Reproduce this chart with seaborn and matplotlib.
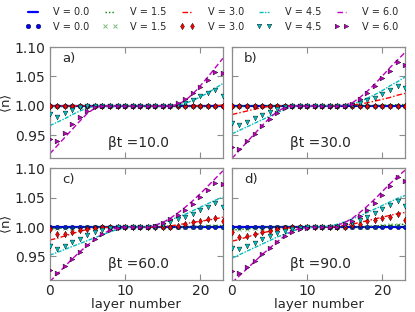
import matplotlib
matplotlib.use("Agg")
import matplotlib.pyplot as plt
import seaborn as sns
import pandas as pd
from matplotlib.lines import Line2D

# ---------------- data ----------------
layers = [0, 1, 2, 3, 4, 5, 6, 7, 8, 9, 10, 11, 12, 13, 14, 15, 16, 17, 18, 19, 20, 21, 22, 23]
v_labels = ["V = 0.0", "V = 1.5", "V = 3.0", "V = 4.5", "V = 6.0"]
panel_tags = ["a)", "b)", "c)", "d)"]
panel_times = ["βt =10.0", "βt =30.0", "βt =60.0", "βt =90.0"]
x_ticks = [0, 10, 20]
y_ticks = [0.95, 1.00, 1.05, 1.10]

# panel a (beta t = 10): lines
line_a_v00 = [1.000, 1.000, 1.000, 1.000, 1.000, 1.000, 1.000, 1.000, 1.000, 1.000, 1.000, 1.000, 1.000, 1.000, 1.000, 1.000, 1.000, 1.000, 1.000, 1.000, 1.000, 1.000, 1.000, 1.000]
line_a_v15 = [1.000, 1.000, 1.000, 1.000, 1.000, 1.000, 1.000, 1.000, 1.000, 1.000, 1.000, 1.000, 1.000, 1.000, 1.000, 1.000, 1.000, 1.000, 1.000, 1.000, 1.000, 1.000, 1.000, 1.000]
line_a_v30 = [0.999, 1.000, 1.000, 1.000, 1.000, 1.000, 1.000, 1.000, 1.000, 1.000, 1.000, 1.000, 1.000, 1.000, 1.000, 1.000, 1.000, 1.000, 1.000, 1.000, 1.000, 1.000, 1.000, 1.001]
line_a_v45 = [0.966, 0.972, 0.978, 0.985, 0.991, 0.996, 0.999, 1.000, 1.000, 1.000, 1.000, 1.000, 1.000, 1.000, 1.000, 1.000, 1.000, 1.001, 1.004, 1.009, 1.015, 1.022, 1.030, 1.038]
line_a_v60 = [0.918, 0.932, 0.946, 0.960, 0.974, 0.987, 0.996, 1.000, 1.000, 1.000, 1.000, 1.000, 1.000, 1.000, 1.000, 1.000, 1.000, 1.002, 1.009, 1.020, 1.034, 1.049, 1.065, 1.081]
# panel a: simulation points
dots_a_v00 = [1.000, 1.000, 1.000, 1.000, 1.000, 1.000, 1.000, 1.000, 1.000, 1.000, 1.000, 1.000, 1.000, 1.000, 1.000, 1.000, 1.000, 1.000, 1.000, 1.000, 1.000, 1.000, 1.000, 1.000]
dots_a_v15 = [1.000, 1.000, 1.000, 1.000, 1.000, 1.000, 1.000, 1.000, 1.000, 1.000, 1.000, 1.000, 1.000, 1.000, 1.000, 1.000, 1.000, 1.000, 1.000, 1.000, 1.000, 1.000, 1.000, 1.000]
dots_a_v30 = [1.000, 1.000, 1.000, 1.000, 1.000, 1.000, 1.000, 1.000, 1.000, 1.000, 1.000, 1.000, 1.000, 1.000, 1.000, 1.000, 1.000, 1.000, 1.000, 1.000, 1.000, 1.000, 1.000, 1.000]
dots_a_v45 = [0.986, 0.980, 0.987, 0.993, 0.997, 0.999, 1.000, 1.000, 1.000, 1.000, 1.000, 1.000, 1.000, 1.000, 1.000, 1.000, 1.000, 1.001, 1.004, 1.009, 1.016, 1.022, 1.026, 1.017]
dots_a_v60 = [0.944, 0.940, 0.954, 0.968, 0.981, 0.991, 0.998, 1.000, 1.000, 1.000, 1.000, 1.000, 1.000, 1.000, 1.000, 1.000, 1.000, 1.004, 1.012, 1.021, 1.032, 1.044, 1.058, 1.056]

# panel b (beta t = 30)
line_b_v00 = [1.000, 1.000, 1.000, 1.000, 1.000, 1.000, 1.000, 1.000, 1.000, 1.000, 1.000, 1.000, 1.000, 1.000, 1.000, 1.000, 1.000, 1.000, 1.000, 1.000, 1.000, 1.000, 1.000, 1.000]
line_b_v15 = [0.998, 0.999, 1.000, 1.000, 1.000, 1.000, 1.000, 1.000, 1.000, 1.000, 1.000, 1.000, 1.000, 1.000, 1.000, 1.000, 1.000, 1.000, 1.000, 1.000, 1.001, 1.001, 1.002, 1.002]
line_b_v30 = [0.985, 0.988, 0.991, 0.994, 0.997, 0.999, 1.000, 1.000, 1.000, 1.000, 1.000, 1.000, 1.000, 1.000, 1.000, 1.000, 1.001, 1.003, 1.005, 1.008, 1.011, 1.014, 1.018, 1.021]
line_b_v45 = [0.952, 0.958, 0.964, 0.970, 0.976, 0.982, 0.988, 0.994, 0.998, 1.000, 1.000, 1.000, 1.000, 1.000, 1.000, 1.001, 1.003, 1.007, 1.013, 1.019, 1.026, 1.034, 1.041, 1.049]
line_b_v60 = [0.910, 0.924, 0.938, 0.952, 0.966, 0.979, 0.990, 0.997, 1.000, 1.000, 1.000, 1.000, 1.000, 1.000, 1.000, 1.001, 1.005, 1.014, 1.025, 1.037, 1.051, 1.065, 1.078, 1.091]
dots_b_v00 = [1.000, 1.000, 1.000, 1.000, 1.000, 1.000, 1.000, 1.000, 1.000, 1.000, 1.000, 1.000, 1.000, 1.000, 1.000, 1.000, 1.000, 1.000, 1.000, 1.000, 1.000, 1.000, 1.000, 1.000]
dots_b_v15 = [1.000, 1.000, 1.000, 1.000, 1.000, 1.000, 1.000, 1.000, 1.000, 1.000, 1.000, 1.000, 1.000, 1.000, 1.000, 1.000, 1.000, 1.000, 1.000, 1.000, 1.000, 1.000, 1.000, 1.000]
dots_b_v30 = [1.000, 1.000, 1.000, 1.000, 1.000, 1.000, 1.000, 1.000, 1.000, 1.000, 1.000, 1.000, 1.000, 1.000, 1.000, 1.000, 1.000, 1.000, 1.000, 1.000, 1.000, 1.000, 1.000, 1.000]
dots_b_v45 = [0.970, 0.967, 0.973, 0.979, 0.985, 0.990, 0.995, 0.998, 1.000, 1.000, 1.000, 1.000, 1.000, 1.000, 1.000, 1.000, 1.001, 1.004, 1.009, 1.014, 1.020, 1.027, 1.034, 1.030]
dots_b_v60 = [0.930, 0.926, 0.939, 0.952, 0.965, 0.977, 0.988, 0.996, 1.000, 1.000, 1.000, 1.000, 1.000, 1.000, 1.000, 1.000, 1.003, 1.011, 1.022, 1.034, 1.047, 1.060, 1.074, 1.070]

# panel c (beta t = 60)
line_c_v00 = [1.000, 1.000, 1.000, 1.000, 1.000, 1.000, 1.000, 1.000, 1.000, 1.000, 1.000, 1.000, 1.000, 1.000, 1.000, 1.000, 1.000, 1.000, 1.000, 1.000, 1.000, 1.000, 1.000, 1.000]
line_c_v15 = [0.997, 0.998, 0.998, 0.999, 0.999, 1.000, 1.000, 1.000, 1.000, 1.000, 1.000, 1.000, 1.000, 1.000, 1.000, 1.000, 1.000, 1.000, 1.000, 1.001, 1.001, 1.002, 1.002, 1.003]
line_c_v30 = [0.978, 0.981, 0.985, 0.989, 0.993, 0.996, 0.998, 0.999, 1.000, 1.000, 1.000, 1.000, 1.000, 1.000, 1.000, 1.001, 1.002, 1.004, 1.006, 1.008, 1.010, 1.012, 1.014, 1.017]
line_c_v45 = [0.952, 0.957, 0.962, 0.967, 0.972, 0.977, 0.982, 0.987, 0.992, 0.996, 0.999, 1.000, 1.000, 1.001, 1.004, 1.008, 1.012, 1.017, 1.022, 1.028, 1.034, 1.040, 1.046, 1.051]
line_c_v60 = [0.907, 0.920, 0.933, 0.946, 0.958, 0.969, 0.979, 0.988, 0.995, 0.999, 1.000, 1.000, 1.000, 1.000, 1.003, 1.008, 1.015, 1.024, 1.034, 1.045, 1.057, 1.070, 1.083, 1.096]
dots_c_v00 = [1.000, 1.000, 1.000, 1.000, 1.000, 1.000, 1.000, 1.000, 1.000, 1.000, 1.000, 1.000, 1.000, 1.000, 1.000, 1.000, 1.000, 1.000, 1.000, 1.000, 1.000, 1.000, 1.000, 1.000]
dots_c_v15 = [0.999, 0.998, 0.998, 0.999, 0.999, 1.000, 1.000, 1.000, 1.000, 1.000, 1.000, 1.000, 1.000, 1.000, 1.000, 1.000, 1.000, 1.000, 1.000, 1.001, 1.001, 1.002, 1.002, 1.001]
dots_c_v30 = [0.997, 0.988, 0.989, 0.992, 0.995, 0.997, 0.999, 1.000, 1.000, 1.000, 1.000, 1.000, 1.000, 1.000, 1.000, 1.000, 1.001, 1.002, 1.005, 1.008, 1.011, 1.013, 1.016, 1.010]
dots_c_v45 = [0.968, 0.963, 0.968, 0.974, 0.980, 0.986, 0.991, 0.995, 0.998, 1.000, 1.000, 1.000, 1.000, 1.000, 1.001, 1.004, 1.008, 1.013, 1.018, 1.023, 1.029, 1.035, 1.041, 1.034]
dots_c_v60 = [0.926, 0.922, 0.934, 0.946, 0.958, 0.969, 0.979, 0.988, 0.995, 0.999, 1.000, 1.000, 1.000, 1.000, 1.002, 1.007, 1.013, 1.021, 1.030, 1.040, 1.051, 1.063, 1.075, 1.073]

# panel d (beta t = 90)
line_d_v00 = [1.000, 1.000, 1.000, 1.000, 1.000, 1.000, 1.000, 1.000, 1.000, 1.000, 1.000, 1.000, 1.000, 1.000, 1.000, 1.000, 1.000, 1.000, 1.000, 1.000, 1.000, 1.000, 1.000, 1.000]
line_d_v15 = [0.995, 0.996, 0.997, 0.998, 0.999, 1.000, 1.000, 1.000, 1.000, 1.000, 1.000, 1.000, 1.000, 1.000, 1.000, 1.000, 1.000, 1.000, 1.001, 1.002, 1.003, 1.003, 1.004, 1.005]
line_d_v30 = [0.976, 0.979, 0.983, 0.987, 0.990, 0.993, 0.996, 0.998, 0.999, 1.000, 1.000, 1.000, 1.000, 1.000, 1.001, 1.003, 1.005, 1.008, 1.011, 1.014, 1.017, 1.020, 1.023, 1.025]
line_d_v45 = [0.947, 0.953, 0.959, 0.965, 0.971, 0.977, 0.983, 0.988, 0.993, 0.997, 0.999, 1.000, 1.000, 1.002, 1.005, 1.009, 1.014, 1.019, 1.025, 1.031, 1.037, 1.043, 1.049, 1.054]
line_d_v60 = [0.905, 0.917, 0.929, 0.941, 0.953, 0.964, 0.975, 0.985, 0.993, 0.998, 1.000, 1.000, 1.000, 1.000, 1.003, 1.008, 1.015, 1.025, 1.036, 1.048, 1.061, 1.074, 1.086, 1.097]
dots_d_v00 = [1.000, 1.000, 1.000, 1.000, 1.000, 1.000, 1.000, 1.000, 1.000, 1.000, 1.000, 1.000, 1.000, 1.000, 1.000, 1.000, 1.000, 1.000, 1.000, 1.000, 1.000, 1.000, 1.000, 1.000]
dots_d_v15 = [0.998, 0.997, 0.997, 0.998, 0.999, 0.999, 1.000, 1.000, 1.000, 1.000, 1.000, 1.000, 1.000, 1.000, 1.000, 1.000, 1.000, 1.000, 1.001, 1.001, 1.002, 1.003, 1.003, 1.002]
dots_d_v30 = [0.992, 0.983, 0.985, 0.988, 0.991, 0.994, 0.997, 0.999, 1.000, 1.000, 1.000, 1.000, 1.000, 1.000, 1.000, 1.001, 1.003, 1.006, 1.010, 1.012, 1.016, 1.018, 1.022, 1.012]
dots_d_v45 = [0.965, 0.962, 0.967, 0.973, 0.979, 0.985, 0.990, 0.994, 0.997, 0.999, 1.000, 1.000, 1.000, 1.000, 1.001, 1.003, 1.007, 1.012, 1.018, 1.024, 1.031, 1.038, 1.045, 1.036]
dots_d_v60 = [0.925, 0.921, 0.932, 0.943, 0.954, 0.965, 0.975, 0.984, 0.991, 0.996, 0.999, 1.000, 1.000, 1.000, 1.001, 1.005, 1.011, 1.019, 1.029, 1.041, 1.055, 1.070, 1.085, 1.078]

panel_lines = [
    [line_a_v00, line_a_v15, line_a_v30, line_a_v45, line_a_v60],
    [line_b_v00, line_b_v15, line_b_v30, line_b_v45, line_b_v60],
    [line_c_v00, line_c_v15, line_c_v30, line_c_v45, line_c_v60],
    [line_d_v00, line_d_v15, line_d_v30, line_d_v45, line_d_v60],
]
panel_dots = [
    [dots_a_v00, dots_a_v15, dots_a_v30, dots_a_v45, dots_a_v60],
    [dots_b_v00, dots_b_v15, dots_b_v30, dots_b_v45, dots_b_v60],
    [dots_c_v00, dots_c_v15, dots_c_v30, dots_c_v45, dots_c_v60],
    [dots_d_v00, dots_d_v15, dots_d_v30, dots_d_v45, dots_d_v60],
]

# ---------------- styles ----------------
colors = ["#0000ff", "#008000", "#ff0000", "#00bfbf", "#bf00bf"]
line_styles = ["-", (0, (1, 1.5)), (0, (4, 1.5, 1, 1.5)), (0, (3, 1, 1, 1)), (0, (4, 2))]
line_widths = [1.6, 1.0, 1.0, 1.0, 1.0]
markers = ["o", "x", "d", "v", ">"]
marker_sizes = [10, 9, 11, 12, 12]

sns.set_style("ticks")
plt.rcParams["font.family"] = ["DejaVu Sans"]
plt.rcParams["mathtext.default"] = "regular"

fig, axes = plt.subplots(2, 2, figsize=(4.15, 3.12), dpi=100)
fig.subplots_adjust(left=0.120, right=0.976, top=0.849, bottom=0.103,
                    wspace=0.052, hspace=0.09)

for p, ax in enumerate(axes.flat):
    for k in range(5):
        sns.lineplot(x=layers, y=panel_lines[p][k], ax=ax, color=colors[k],
                     linestyle=line_styles[k], linewidth=line_widths[k],
                     errorbar=None, zorder=2 + k * 0.1)
    for k in range(5):
        if markers[k] == "x":
            sns.scatterplot(x=layers, y=panel_dots[p][k], ax=ax, marker="x",
                            color=colors[k], s=marker_sizes[k], linewidth=0.7,
                            alpha=0.5, zorder=3 + k * 0.1)
        else:
            sns.scatterplot(x=layers, y=panel_dots[p][k], ax=ax, marker=markers[k],
                            color=colors[k], s=marker_sizes[k], edgecolor="k",
                            linewidth=0.3, zorder=3 + k * 0.1)
    ax.set_xlim(0, 23)
    ax.set_ylim(0.91, 1.10)
    ax.set_xticks(x_ticks)
    ax.set_yticks(y_ticks)
    ax.set_yticklabels([f"{v:.2f}" for v in y_ticks])
    ax.tick_params(direction="in", top=True, right=True, length=4,
                   color="0.55", labelsize=10, pad=3)
    for s in ax.spines.values():
        s.set_color("0.55")
        s.set_linewidth(0.9)
    ax.set_xlabel("")
    ax.set_ylabel("")
    ax.text(0.07, 0.96, panel_tags[p], transform=ax.transAxes,
            ha="left", va="top", fontsize=9.5)
    ax.text(0.51, 0.14, panel_times[p], transform=ax.transAxes,
            ha="center", va="center", fontsize=10)
    if p in (0, 1):
        ax.tick_params(labelbottom=False)
    else:
        ax.set_xlabel("layer number", fontsize=9.5, labelpad=0)
    if p in (1, 3):
        ax.tick_params(labelleft=False)
    else:
        ax.set_ylabel(r"$\langle n \rangle$", fontsize=9.5)
        ax.yaxis.set_label_coords(-0.205, 0.5)

handles, labels = [], []
for k in range(5):
    handles.append(Line2D([], [], color=colors[k], linestyle=line_styles[k],
                          linewidth=line_widths[k]))
    labels.append(v_labels[k])
    if markers[k] == "x":
        handles.append(Line2D([], [], color=colors[k], marker="x", linestyle="",
                              markersize=3, markeredgewidth=0.7, alpha=0.5))
    else:
        handles.append(Line2D([], [], color=colors[k], marker=markers[k], linestyle="",
                              markersize=3.3, markeredgecolor="k", markeredgewidth=0.3))
    labels.append(v_labels[k])

fig.legend(handles, labels, ncol=5, loc="center", bbox_to_anchor=(0.51, 0.937),
           frameon=False, fontsize=7, numpoints=2, handlelength=1.6,
           columnspacing=1.3, handletextpad=1.3, labelspacing=0.45)

fig.savefig("out.png", dpi=100)
